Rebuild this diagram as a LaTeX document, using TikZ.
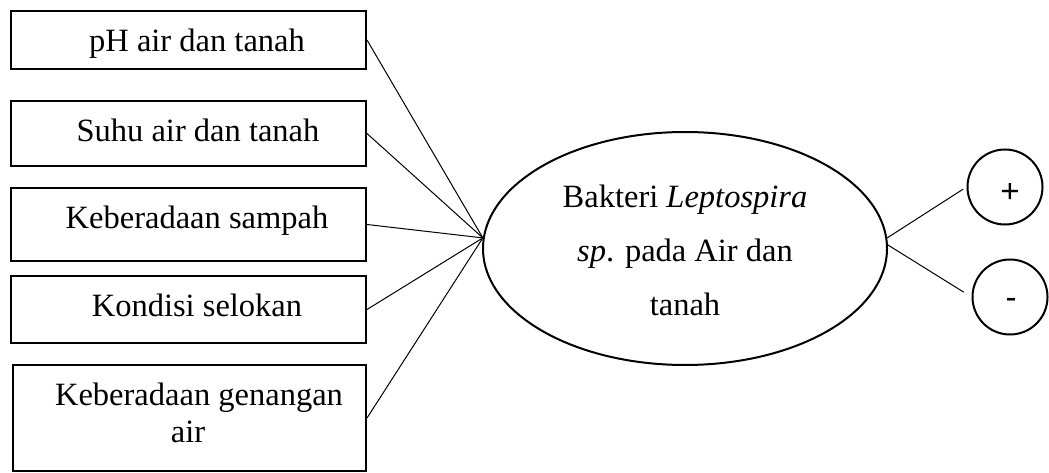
\documentclass[tikz,border=0pt]{standalone}
\usepackage{fontspec}
\setmainfont{Liberation Serif}
\newfontfamily\plusfont{Liberation Sans}
\usetikzlibrary{shapes.geometric}
\begin{document}
\begin{tikzpicture}[x=1pt,y=-1pt,
  box/.style={draw,line width=2pt,minimum width=355pt,inner sep=0pt,rectangle},
  lbl/.style={font=\fontsize{32.5}{37}\selectfont,anchor=base,inner sep=0pt},
  conn/.style={line width=1pt},
  sign/.style={draw,circle,line width=2pt,minimum size=75pt,inner sep=0pt},
  signlbl/.style={font=\plusfont\fontsize{33}{36}\selectfont,inner sep=0pt}]
\useasboundingbox (0,0) rectangle (1049,473);
% boxes
\node[box,minimum height=58pt] (b1) at (188.5,40) {};
\node[box,minimum height=65pt] (b2) at (188.5,133.5) {};
\node[box,minimum height=73pt] (b3) at (188.5,224.5) {};
\node[box,minimum height=67pt] (b4) at (188.5,309.5) {};
\node[box,minimum height=106pt,minimum width=353pt] (b5) at (189.5,418) {};
\node[lbl] (t1) at (197,52) {pH air dan tanah};
\node[lbl] (t2) at (198,142) {Suhu air dan tanah};
\node[lbl] (t3) at (197,229) {Keberadaan sampah};
\node[lbl] (t4) at (197,316) {Kondisi selokan};
\node[lbl,anchor=north,align=center] (t5) at (199,382.8) {Keberadaan genangan\\\hspace*{-22pt}air};
% ellipse
\node[draw,ellipse,line width=2pt,minimum width=404pt,minimum height=233pt,inner sep=0pt] (ell) at (685,248.5) {};
\node[font=\fontsize{32.5}{54}\selectfont,anchor=north,align=center,inner sep=0pt] (et) at (685,184.8)
  {Bakteri \textit{Leptospira}\\\textit{sp}. pada Air dan\\tanah};
% circles
\node[sign] (plus) at (1005,187) {};
\node[sign] (minus) at (1010,297) {};
\node[signlbl] (pt) at (1010,193) {+};
\node[signlbl] (mt) at (1011,303) {-};
% connectors
\foreach \b in {b1,b2,b3,b4,b5} \draw[conn] (\b.east) -- (ell.177.5);
\draw[conn,shorten >=4pt] (ell.3) -- (plus.west);
\draw[conn,shorten >=9pt] (ell.1.5) -- (minus.west);
\end{tikzpicture}
\end{document}
